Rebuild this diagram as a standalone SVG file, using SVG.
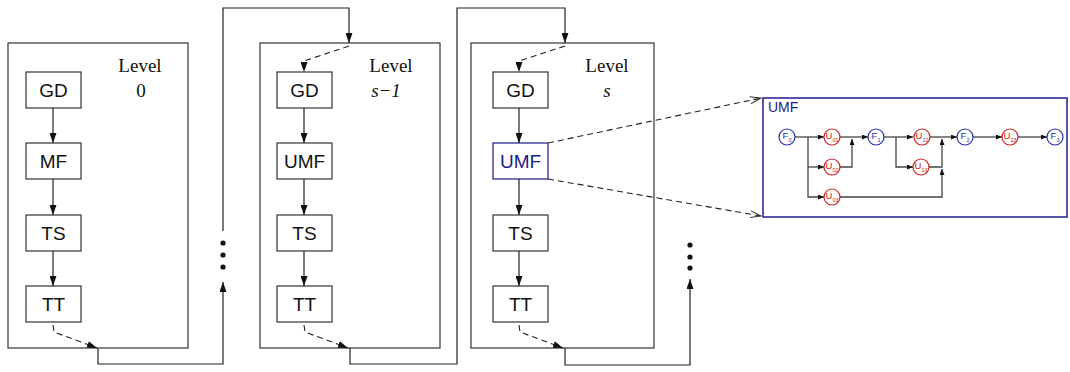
<svg xmlns="http://www.w3.org/2000/svg" width="1070" height="372" viewBox="0 0 1070 372">
  <defs>
    <marker id="arr" markerUnits="userSpaceOnUse" markerWidth="10" markerHeight="7" refX="10" refY="3.5" orient="auto">
      <path d="M0,0 L10,3.5 L0,7 z" fill="#111"/>
    </marker>
    <marker id="open" markerUnits="userSpaceOnUse" markerWidth="12" markerHeight="8" refX="11" refY="4" orient="auto">
      <path d="M0,0.5 L11,4 L0,7.5" fill="none" stroke="#333" stroke-width="1"/>
    </marker>
    <marker id="sm" markerUnits="userSpaceOnUse" markerWidth="6" markerHeight="5" refX="6" refY="2.5" orient="auto">
      <path d="M0,0 L6,2.5 L0,5 z" fill="#111"/>
    </marker>
  </defs>
  <style>
    .level { fill: none; stroke: #333; stroke-width: 1.2; }
    .box { fill: #fff; stroke: #333; stroke-width: 1.2; }
    .box.hl { stroke: #1c1c8e; }
    .lbl { font-family: "Liberation Sans", Arial, sans-serif; font-size: 19px; fill: #111; text-anchor: middle; }
    .lbl.hl { fill: #1c1c8e; }
    .lvl { font-family: "Liberation Serif", "Times New Roman", serif; font-size: 19px; fill: #111; text-anchor: middle; }
    .wire { fill: none; stroke: #222; stroke-width: 1.2; }
    .dash { fill: none; stroke: #222; stroke-width: 1.1; stroke-dasharray: 6 4; }
    .dot { fill: #111; }
    .dw { fill: none; stroke: #444; stroke-width: 1.3; }
    .fn { fill: #fff; stroke: #2233aa; stroke-width: 1.2; }
    .un { fill: #fff; stroke: #cc2222; stroke-width: 1.2; }
    .ft { font-family: "Liberation Sans", Arial, sans-serif; font-size: 9.5px; fill: #2233aa; text-anchor: middle; }
    .ut { font-family: "Liberation Sans", Arial, sans-serif; font-size: 9.5px; fill: #cc2222; text-anchor: middle; }
    .sub { font-size: 5.5px; }
  </style>

  <!-- Level 0 -->
  <g id="level0">
    <rect class="level" x="8" y="43" width="180" height="305"/>
    <text class="lvl" x="140" y="72">Level</text>
    <text class="lvl" x="141" y="97">0</text>
  </g>
  <g id="l0-gd"><rect class="box" x="26" y="72" width="55" height="36"/><text class="lbl" x="53.5" y="97">GD</text></g>
  <g id="l0-mf"><rect class="box" x="26" y="143" width="55" height="36"/><text class="lbl" x="53.5" y="168">MF</text></g>
  <g id="l0-ts"><rect class="box" x="26" y="215" width="55" height="36"/><text class="lbl" x="53.5" y="240">TS</text></g>
  <g id="l0-tt"><rect class="box" x="26" y="286" width="55" height="36"/><text class="lbl" x="53.5" y="311">TT</text></g>

  <!-- Level s-1 -->
  <g id="level-s1">
    <rect class="level" x="260" y="43" width="180" height="305"/>
    <text class="lvl" x="391" y="72">Level</text>
    <text class="lvl" x="386" y="97" font-style="italic">s−1</text>
  </g>
  <g id="ls1-gd"><rect class="box" x="277" y="72" width="55" height="36"/><text class="lbl" x="304.5" y="97">GD</text></g>
  <g id="ls1-umf"><rect class="box" x="277" y="143" width="55" height="36"/><text class="lbl" x="304.5" y="168">UMF</text></g>
  <g id="ls1-ts"><rect class="box" x="277" y="215" width="55" height="36"/><text class="lbl" x="304.5" y="240">TS</text></g>
  <g id="ls1-tt"><rect class="box" x="277" y="286" width="55" height="36"/><text class="lbl" x="304.5" y="311">TT</text></g>

  <!-- Level s -->
  <g id="level-s">
    <rect class="level" x="471" y="43" width="183" height="305"/>
    <text class="lvl" x="607" y="72">Level</text>
    <text class="lvl" x="607" y="97" font-style="italic">s</text>
  </g>
  <g id="ls-gd"><rect class="box" x="493" y="72" width="55" height="36"/><text class="lbl" x="520.5" y="97">GD</text></g>
  <g id="ls-umf"><rect class="box hl" x="493" y="143" width="55" height="36"/><text class="lbl hl" x="520.5" y="168">UMF</text></g>
  <g id="ls-ts"><rect class="box" x="493" y="215" width="55" height="36"/><text class="lbl" x="520.5" y="240">TS</text></g>
  <g id="ls-tt"><rect class="box" x="493" y="286" width="55" height="36"/><text class="lbl" x="520.5" y="311">TT</text></g>

  <!-- UMF expansion -->
  <g id="umf-detail">
    <rect x="763" y="98" width="304" height="119" fill="#fff" stroke="#1c1c8e" stroke-width="1.5"/>
    <text x="768" y="112" font-family="Liberation Sans, Arial, sans-serif" font-size="14" fill="#1c1c8e">UMF</text>
  </g>
  <g id="umf-connectors">
    <path class="dw" d="M795,137 H824" marker-end="url(#sm)"/>
    <path class="dw" d="M808,137 V197 H824" marker-end="url(#sm)"/>
    <path class="dw" d="M808,167 H824" marker-end="url(#sm)"/>
    <path class="dw" d="M840,137 H868" marker-end="url(#sm)"/>
    <path class="dw" d="M840,167 H852 V139" marker-end="url(#sm)"/>
    <path class="dw" d="M884,137 H913" marker-end="url(#sm)"/>
    <path class="dw" d="M896,137 V167 H913" marker-end="url(#sm)"/>
    <path class="dw" d="M930,137 H957" marker-end="url(#sm)"/>
    <path class="dw" d="M929,167 H942 V139" marker-end="url(#sm)"/>
    <path class="dw" d="M840,197 H942 V169" marker-end="url(#sm)"/>
    <path class="dw" d="M973,137 H1002" marker-end="url(#sm)"/>
    <path class="dw" d="M1018,137 H1047" marker-end="url(#sm)"/>
  </g>
  <g id="f0"><circle class="fn" cx="787" cy="137" r="8"/><text class="ft" x="787" y="139">F<tspan class="sub" dy="3">0</tspan></text></g>
  <g id="u01"><circle class="un" cx="832" cy="137" r="8"/><text class="ut" x="832" y="139">U<tspan class="sub" dy="3">01</tspan></text></g>
  <g id="u02"><circle class="un" cx="832" cy="167" r="8"/><text class="ut" x="832" y="169">U<tspan class="sub" dy="3">02</tspan></text></g>
  <g id="u03"><circle class="un" cx="832" cy="197" r="8"/><text class="ut" x="832" y="199">U<tspan class="sub" dy="3">03</tspan></text></g>
  <g id="f1"><circle class="fn" cx="876" cy="137" r="8"/><text class="ft" x="876" y="139">F<tspan class="sub" dy="3">1</tspan></text></g>
  <g id="u12"><circle class="un" cx="922" cy="137" r="8"/><text class="ut" x="922" y="139">U<tspan class="sub" dy="3">12</tspan></text></g>
  <g id="u13"><circle class="un" cx="921" cy="167" r="8"/><text class="ut" x="921" y="169">U<tspan class="sub" dy="3">13</tspan></text></g>
  <g id="f2"><circle class="fn" cx="965" cy="137" r="8"/><text class="ft" x="965" y="139">F<tspan class="sub" dy="3">2</tspan></text></g>
  <g id="u23"><circle class="un" cx="1010" cy="137" r="8"/><text class="ut" x="1010" y="139">U<tspan class="sub" dy="3">23</tspan></text></g>
  <g id="f3"><circle class="fn" cx="1055" cy="137" r="8"/><text class="ft" x="1055" y="139">F<tspan class="sub" dy="3">3</tspan></text></g>

  <!-- Connectors -->
  <g id="connectors">
    <!-- inside level 0 -->
    <path class="wire" d="M53,108 V143" marker-end="url(#arr)"/>
    <path class="wire" d="M53,179 V215" marker-end="url(#arr)"/>
    <path class="wire" d="M53,251 V286" marker-end="url(#arr)"/>
    <path class="dash" d="M53,325 L54,332 L97,348" marker-end="url(#arr)"/>
    <path class="wire" d="M98,348 V364 H223 V282" marker-end="url(#arr)"/>
    <circle class="dot" cx="223" cy="243" r="2.6"/>
    <circle class="dot" cx="223" cy="255" r="2.6"/>
    <circle class="dot" cx="223" cy="267" r="2.6"/>
    <path class="wire" d="M223,231 V8 H349 V43" marker-end="url(#arr)"/>

    <!-- inside level s-1 -->
    <path class="dash" d="M349,46 L304,61 L304,72" marker-end="url(#arr)"/>
    <path class="wire" d="M304,108 V143" marker-end="url(#arr)"/>
    <path class="wire" d="M304,179 V215" marker-end="url(#arr)"/>
    <path class="wire" d="M304,251 V286" marker-end="url(#arr)"/>
    <path class="dash" d="M304,325 L305,332 L348,348" marker-end="url(#arr)"/>
    <path class="wire" d="M350,348 V364 H457 V8 H565 V43" marker-end="url(#arr)"/>

    <!-- inside level s -->
    <path class="dash" d="M565,46 L519,61 L519,72" marker-end="url(#arr)"/>
    <path class="wire" d="M519,108 V143" marker-end="url(#arr)"/>
    <path class="wire" d="M519,179 V215" marker-end="url(#arr)"/>
    <path class="wire" d="M519,251 V286" marker-end="url(#arr)"/>
    <path class="dash" d="M519,325 L520,332 L563,348" marker-end="url(#arr)"/>
    <path class="wire" d="M565,348 V365 H690 V279" marker-end="url(#arr)"/>
    <circle class="dot" cx="690" cy="245" r="2.6"/>
    <circle class="dot" cx="690" cy="257" r="2.6"/>
    <circle class="dot" cx="690" cy="268" r="2.6"/>

    <!-- UMF expansion rays -->
    <path class="dash" d="M548,143 L761,98" marker-end="url(#open)"/>
    <path class="dash" d="M548,179 L761,216" marker-end="url(#open)"/>
  </g>
</svg>
